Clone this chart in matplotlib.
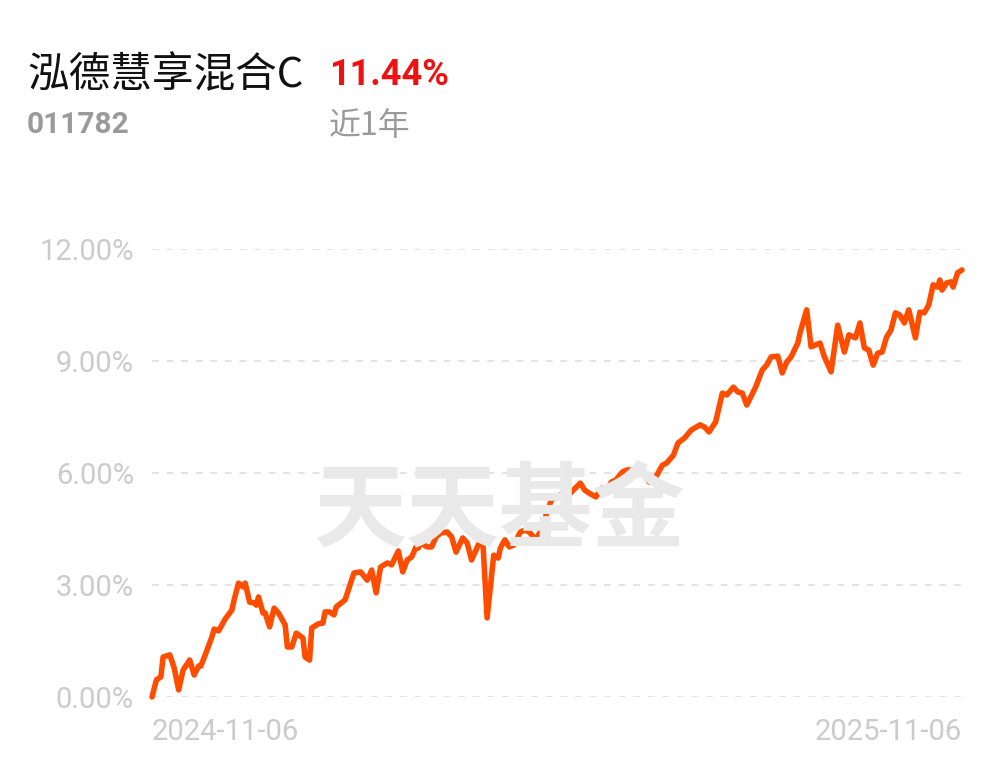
import matplotlib
matplotlib.use("Agg")
import matplotlib.pyplot as plt
import pandas as pd
import numpy as np

# ---- data ----
fund_name = "泓德慧享混合C"
fund_code = "011782"
period_return = "11.44%"
period_label = "近1年"
watermark = "天天基金"
start_date = "2024-11-06"
end_date = "2025-11-06"

day_offsets = [0, 2, 4, 5, 8, 10, 12, 14, 17, 19, 21, 22, 24, 27, 28, 30, 32, 33, 36, 37,
               39, 41, 42, 44, 46, 47, 48, 50, 51, 53, 55, 57, 60, 61, 63, 65, 68, 69, 71, 72,
               75, 77, 78, 80, 82, 83, 84, 87, 91, 94, 97, 99, 101, 103, 106, 108, 111, 113, 115, 117,
               119, 120, 121, 124, 126, 128, 130, 133, 135, 137, 140, 142, 144, 147, 149, 151, 152, 154, 156, 157,
               159, 161, 163, 166, 168, 170, 173, 176, 178, 180, 184, 187, 189, 193, 195, 197, 200, 203, 205, 207,
               209, 212, 214, 216, 218, 220, 222, 224, 227, 230, 232, 235, 237, 240, 243, 247, 249, 251, 254, 257,
               259, 262, 264, 266, 268, 272, 275, 277, 279, 282, 284, 286, 288, 291, 292, 295, 297, 301, 303, 306,
               309, 312, 314, 317, 319, 321, 323, 325, 327, 329, 331, 333, 335, 337, 339, 341, 344, 346, 348, 350,
               352, 354, 355, 356, 358, 360, 361, 363, 365]

returns_pct = [0.00, 0.46, 0.54, 1.07, 1.13, 0.78, 0.19, 0.72, 0.99, 0.59, 0.83, 0.83, 1.13, 1.61, 1.82, 1.77, 1.98, 2.09, 2.33, 2.60,
               3.05, 2.95, 3.05, 2.54, 2.52, 2.46, 2.68, 2.25, 2.25, 1.88, 2.38, 2.25, 1.93, 1.34, 1.34, 1.71, 1.58, 1.07, 0.99, 1.85,
               1.96, 1.98, 2.28, 2.28, 2.20, 2.41, 2.46, 2.60, 3.32, 3.35, 3.13, 3.40, 2.79, 3.48, 3.59, 3.54, 3.91, 3.35, 3.67, 3.75,
               4.02, 3.99, 4.13, 4.02, 4.02, 4.29, 4.39, 4.42, 4.29, 3.88, 4.26, 4.13, 3.67, 4.07, 4.26, 2.12, 2.68, 3.80, 3.72, 3.99,
               4.21, 4.02, 4.07, 4.42, 4.47, 4.42, 4.21, 4.55, 4.96, 5.28, 5.41, 5.38, 5.49, 5.73, 5.54, 5.46, 5.36, 5.60, 5.54, 5.76,
               5.81, 6.03, 6.08, 6.08, 5.95, 6.05, 5.95, 5.76, 5.89, 6.21, 6.27, 6.48, 6.80, 6.94, 7.15, 7.29, 7.23, 7.10, 7.37, 8.14,
               8.09, 8.30, 8.17, 8.14, 7.82, 8.30, 8.76, 8.89, 9.11, 9.13, 8.68, 8.97, 9.11, 9.48, 9.75, 10.37, 9.38, 9.48, 9.11, 8.71,
               9.96, 9.24, 9.70, 9.62, 10.02, 9.35, 9.29, 8.89, 9.21, 9.24, 9.64, 9.83, 10.29, 10.23, 10.02, 10.37, 9.62, 10.31, 10.29, 10.50,
               11.04, 10.98, 11.17, 10.90, 11.09, 11.12, 10.98, 11.36, 11.44]

y_ticks = [0, 3, 6, 9, 12]
y_tick_labels = ["0.00%", "3.00%", "6.00%", "9.00%", "12.00%"]
x_tick_labels = [start_date, end_date]

dates = pd.Timestamp(start_date) + pd.to_timedelta(day_offsets, unit="D")

# ---- figure ----
W, H = 1001, 766
fig = plt.figure(figsize=(W / 100, H / 100), dpi=100)
fig.patch.set_facecolor("white")

def fx(x):
    return x / W

def fy(y):
    return 1 - y / H

ax_left, ax_right, ax_top, ax_bot = 152, 962, 249, 697
ax = fig.add_axes([fx(ax_left), fy(ax_bot), (ax_right - ax_left) / W, (ax_bot - ax_top) / H])
ax.set_facecolor("none")

for s in ax.spines.values():
    s.set_visible(False)

ax.set_ylim(0, 12)
ax.set_xlim(pd.Timestamp(start_date), pd.Timestamp(end_date))

for yv in y_ticks:
    ax.axhline(yv, color="#e4e4e4", lw=1.4, ls=(0, (3.5, 4)), zorder=1)

ax.plot(dates, returns_pct, color="#ff4d00", lw=4.0, solid_joinstyle="round",
        solid_capstyle="round", clip_on=False, zorder=3)

num_font = ["Roboto", "DejaVu Sans"]
cjk_font = ["Noto Sans CJK SC", "DejaVu Sans"]

ax.set_yticks(y_ticks)
ax.set_yticklabels(y_tick_labels, fontfamily=num_font, fontweight="normal",
                   fontsize=21, color="#cbcbcb")
ax.tick_params(axis="y", length=0, pad=13)

ax.set_xticks([pd.Timestamp(start_date), pd.Timestamp(end_date)])
xl = ax.set_xticklabels(x_tick_labels, fontfamily=num_font, fontweight="normal",
                        fontsize=21, color="#cbcbcb")
xl[0].set_ha("left")
xl[1].set_ha("right")
ax.tick_params(axis="x", length=0, pad=15)

# watermark
fig.text(fx(499), fy(512), watermark, fontfamily=cjk_font, fontweight="bold",
         fontsize=67, color="#e9e9e9", ha="center", va="center", zorder=0)

# header
fig.text(fx(27), fy(76), fund_name, fontfamily=cjk_font, fontsize=30, color="#111111",
         ha="left", va="center")
fig.text(fx(329), fy(75), period_return, fontfamily=num_font, fontweight="bold",
         fontsize=26, color="#f01010", ha="left", va="center")
fig.text(fx(27), fy(125), fund_code, fontfamily=num_font, fontweight="bold",
         fontsize=21.5, color="#9a9a9a", ha="left", va="center")
fig.text(fx(329), fy(126), period_label, fontfamily=cjk_font, fontsize=23,
         color="#9a9a9a", ha="left", va="center")

fig.savefig("out.png", dpi=100, facecolor="white")
